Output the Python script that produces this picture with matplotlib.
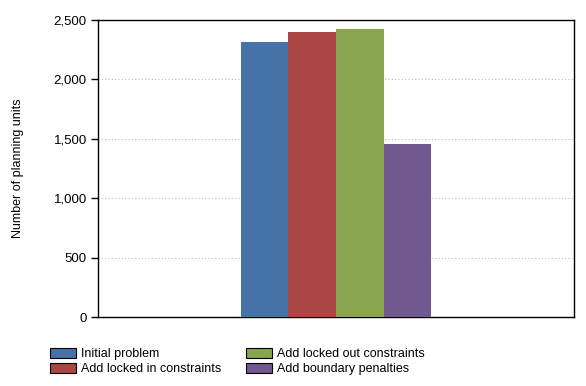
import matplotlib.pyplot as plt
from matplotlib.ticker import FuncFormatter
from matplotlib.patches import Patch

plt.rcParams['font.family'] = ['Liberation Sans', 'DejaVu Sans']

series = ['Initial problem', 'Add locked in constraints',
          'Add locked out constraints', 'Add boundary penalties']
values = [2315, 2399, 2424, 1456]
colors = ['#4572A7', '#AA4643', '#89A54E', '#71588F']

fig = plt.figure(figsize=(5.86, 3.86), dpi=100)
ax = fig.add_axes([98 / 586, 1 - 317 / 386, 476 / 586, 297 / 386])

w = 0.1
for i, (name, v, c) in enumerate(zip(series, values, colors)):
    ax.bar((i - 1.5) * w, v, width=w, color=c, label=name, zorder=3)

ax.set_xlim(-0.5, 0.5)
ax.set_ylim(0, 2500)
ax.set_yticks(range(0, 2501, 500))
ax.yaxis.set_major_formatter(FuncFormatter(lambda v, p: '{:,.0f}'.format(v)))
ax.set_xticks([])
ax.tick_params(axis='y', length=5, width=1, labelsize=9.5, color='black', pad=3)
ax.grid(axis='y', linestyle=(0, (1, 2)), color='#bbbbbb', linewidth=0.8, zorder=0)
for s in ax.spines.values():
    s.set_linewidth(1)
    s.set_color('black')
ax.set_ylabel('Number of planning units', fontsize=9)
ax.yaxis.set_label_coords(-74 / 476, 0.5)

# legend below the plot
lh = [Patch(facecolor=c, edgecolor='black', linewidth=0.8) for c in colors]
fig.legend(lh, series, ncol=2, loc='upper left',
           bbox_to_anchor=(41 / 586, 1 - 339 / 386), frameon=False,
           fontsize=9, handlelength=2.1, handleheight=0.85,
           handletextpad=0.4, columnspacing=1.95, labelspacing=0.2,
           borderpad=0.2)

fig.savefig('out.png', dpi=100)
